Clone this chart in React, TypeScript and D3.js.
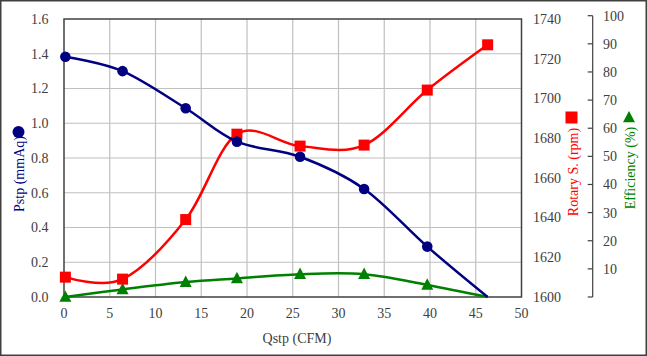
import React from "react";
import * as d3 from "d3";

const qstp = [0.15, 6.4, 13.3, 18.9, 25.8, 32.8, 39.7, 46.3];
const pstp = [1.383, 1.3, 1.086, 0.894, 0.807, 0.622, 0.29, 0.0];
const rpm = [1610, 1609, 1639, 1682, 1676, 1676.5, 1704.2, 1727];
const eff = [0.0, 2.7, 5.3, 6.6, 8.1, 8.1, 4.3, 0.0];

const xTicks = [0, 5, 10, 15, 20, 25, 30, 35, 40, 45, 50];
const yTicks = [0, 0.2, 0.4, 0.6, 0.8, 1.0, 1.2, 1.4, 1.6];
const rpmTicks = [1600, 1620, 1640, 1660, 1680, 1700, 1720, 1740];
const effTicks = [0, 10, 20, 30, 40, 50, 60, 70, 80, 90, 100];

const W = 647;
const H = 356;
const L = 64;
const R = 521.5;
const T = 19;
const B = 297;

const FONT = "'Liberation Serif', 'Times New Roman', serif";

export default function App() {
  const x = d3.scaleLinear().domain([0, 50]).range([L, R]);
  const y = d3.scaleLinear().domain([0, 1.6]).range([B, T]);
  const yR = d3.scaleLinear().domain([1600, 1740]).range([B, T]);
  const yE = d3.scaleLinear().domain([0, 100]).range([B, 15.7]);

  const curve = d3.curveCardinal.tension(0);
  const linePstp = d3
    .line<number>()
    .x((_, i) => x(qstp[i]))
    .y((d) => y(d))
    .curve(curve);
  const lineRpm = d3
    .line<number>()
    .x((_, i) => x(qstp[i]))
    .y((d) => yR(d))
    .curve(curve);
  const lineEff = d3
    .line<number>()
    .x((_, i) => x(qstp[i]))
    .y((d) => yE(d))
    .curve(curve);

  const tri = (cx: number, cy: number, s: number) =>
    `M${cx},${cy - s * 0.55}L${cx + s / 2},${cy + s * 0.4}L${cx - s / 2},${cy + s * 0.4}Z`;

  const effAxisX = 592.7;

  return (
    <svg
      width={W}
      height={H}
      style={{ position: "absolute", left: 0, top: 0, background: "#fff" }}
      fontFamily={FONT}
    >
      <rect x={0.75} y={0.75} width={W - 1.5} height={H - 1.5} fill="#fff" stroke="#404040" strokeWidth={1.5} />

      {/* grid */}
      {xTicks.slice(1, -1).map((t) => (
        <line key={"gx" + t} x1={x(t)} x2={x(t)} y1={T} y2={B} stroke="#c0c0c0" strokeWidth={1.2} />
      ))}
      {yTicks.slice(1, -1).map((t) => (
        <line key={"gy" + t} x1={L} x2={R} y1={y(t)} y2={y(t)} stroke="#c0c0c0" strokeWidth={1.2} />
      ))}
      <rect x={L} y={T} width={R - L} height={B - T} fill="none" stroke="#404040" strokeWidth={1.5} />

      {/* left axis labels */}
      {yTicks.map((t) => (
        <text key={"yl" + t} x={48.5} y={y(t)} dy="0.35em" textAnchor="end" fontSize={14} fill="#404040">
          {t.toFixed(1)}
        </text>
      ))}
      {/* x axis labels */}
      {xTicks.map((t) => (
        <text key={"xl" + t} x={x(t)} y={318} textAnchor="middle" fontSize={14} fill="#404040">
          {t}
        </text>
      ))}
      <text x={297} y={343} textAnchor="middle" fontSize={14} fill="#404040">
        Qstp (CFM)
      </text>

      {/* rpm axis labels */}
      {rpmTicks.map((t) => (
        <text key={"rl" + t} x={533} y={yR(t)} dy="0.35em" textAnchor="start" fontSize={14} fill="#404040">
          {t}
        </text>
      ))}

      {/* efficiency axis */}
      <line x1={effAxisX} x2={effAxisX} y1={yE(100)} y2={yE(0)} stroke="#404040" strokeWidth={1.2} />
      {effTicks.map((t) => (
        <line key={"et" + t} x1={effAxisX - 5} x2={effAxisX} y1={yE(t)} y2={yE(t)} stroke="#404040" strokeWidth={1.2} />
      ))}
      {effTicks.slice(1).map((t) => (
        <text key={"el" + t} x={603} y={yE(t)} dy="0.35em" textAnchor="start" fontSize={14} fill="#404040">
          {t}
        </text>
      ))}

      {/* axis titles */}
      <circle cx={18.5} cy={132} r={6} fill="#000080" />
      <text transform="translate(24,174) rotate(-90)" textAnchor="middle" fontSize={14} fill="#000080">
        Pstp (mmAq)
      </text>
      <rect x={565.5} y={111.5} width={12} height={12} fill="#ff0000" />
      <text transform="translate(577.5,172) rotate(-90)" textAnchor="middle" fontSize={14} fill="#ff0000">
        Rotary S. (rpm)
      </text>
      <path d={tri(629, 117.5, 12)} fill="#008000" />
      <text transform="translate(634.5,168) rotate(-90)" textAnchor="middle" fontSize={14} fill="#008000">
        Efficiency (%)
      </text>

      {/* series */}
      <path d={lineEff(eff) || ""} fill="none" stroke="#008000" strokeWidth={2.5} />
      {eff.slice(0, -1).map((d, i) => (
        <path key={"em" + i} d={tri(x(qstp[i]), yE(d), 12)} fill="#008000" />
      ))}
      <path d={lineRpm(rpm) || ""} fill="none" stroke="#ff0000" strokeWidth={2.5} />
      {rpm.map((d, i) => (
        <rect key={"rm" + i} x={x(qstp[i]) - 5.5} y={yR(d) - 5.5} width={11} height={11} fill="#ff0000" />
      ))}
      <path d={linePstp(pstp) || ""} fill="none" stroke="#000080" strokeWidth={2.5} />
      {pstp.slice(0, -1).map((d, i) => (
        <circle key={"pm" + i} cx={x(qstp[i])} cy={y(d)} r={5.3} fill="#000080" />
      ))}
    </svg>
  );
}
